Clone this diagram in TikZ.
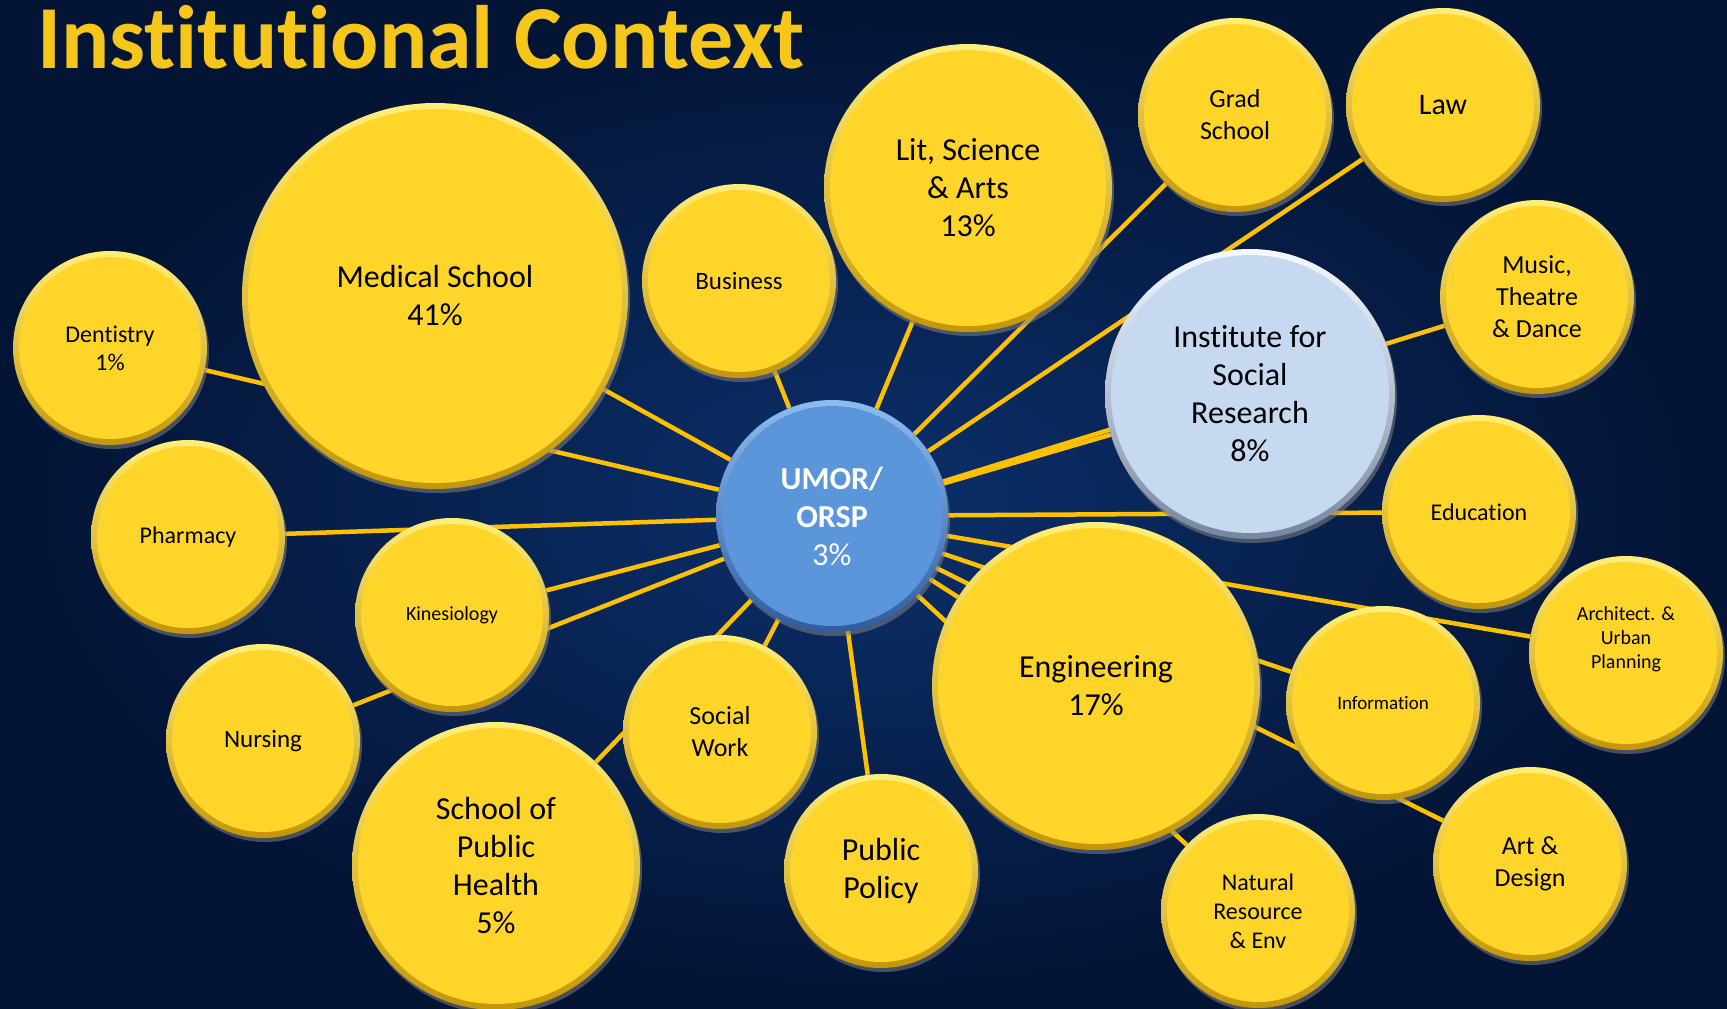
\documentclass[tikz,border=0pt]{standalone}
\usepackage{fontspec}
\setmainfont{Carlito}[Ligatures=NoCommon]
\usetikzlibrary{shadows}
\definecolor{navyin}{RGB}{12,48,108}
\definecolor{navyout}{RGB}{3,20,52}
\definecolor{gold}{RGB}{247,198,27}
\definecolor{linkc}{RGB}{255,192,0}
\definecolor{ylw}{RGB}{255,213,42}
\definecolor{ylwhi}{RGB}{255,238,120}
\definecolor{ylwlo}{RGB}{196,150,8}
\definecolor{hubc}{RGB}{91,150,218}
\definecolor{hubhi}{RGB}{140,188,240}
\definecolor{hublo}{RGB}{48,92,160}
\definecolor{isrc}{RGB}{198,217,241}
\definecolor{isrhi}{RGB}{246,250,255}
\definecolor{isrlo}{RGB}{118,134,160}
\pgfdeclarelayer{bg}
\pgfdeclarelayer{links}
\pgfsetlayers{bg,links,main}

\begin{document}
\begin{tikzpicture}[x=1pt,y=-1pt,
  ball/.style 2 args={circle,inner sep=0pt,minimum size={2*#1pt},align=center,
    drop shadow={shadow xshift=2pt,shadow yshift=-4pt,opacity=.55},
    path picture={\fill[#2](path picture bounding box.center)circle({#1pt-6pt});}},
  dept/.style={ball={#1}{ylw},top color=ylwhi,bottom color=ylwlo},
  fsize/.style 2 args={font=\fontsize{#1}{#2}\selectfont},
  link/.style={linkc,line width=4.5pt}]
  \begin{pgfonlayer}{bg}
    \shade[inner color=navyin,outer color=navyout](0,0)rectangle(1727,1009);
  \end{pgfonlayer}
  \useasboundingbox(0,0)rectangle(1727,1009);
  \node[anchor=base west,inner sep=0pt,text=gold,font=\fontsize{90}{100}\selectfont\bfseries](title)at(37,68){Institutional Context};
  % left side
  \node[dept=193,fsize={32}{38}](med)at(435,296){Medical School\\41\%};
  \node[dept=97,fsize={24}{28}](dent)at(110,348){Dentistry\\1\%};
  \node[dept=97,fsize={24}{28}](pharm)at(188,537){Pharmacy};
  \node[dept=97,fsize={20}{24}](kin)at(452,615){Kinesiology};
  \node[dept=97,fsize={25}{30}](nurs)at(263,741){Nursing};
  \node[dept=144,fsize={32}{38}](sph)at(496,866){School of\\Public\\Health\\5\%};
  \node[dept=97,fsize={26}{32}](ssw)at(720,732){Social\\Work};
  \node[dept=97,fsize={32}{38}](pubpol)at(881,871){Public\\Policy};
  \node[dept=97,fsize={25}{30}](bus)at(739,281){Business};
  \node[dept=144,fsize={32}{38}](lsa)at(968,188){Lit, Science\\\& Arts\\13\%};
  % hub
  \node[ball={116}{hubc},top color=hubhi,bottom color=hublo,text=white,fsize={32}{38}](umor)at(832,516){\textbf{UMOR/}\\\textbf{ORSP}\\3\%};
  % right side
  \node[dept=97,fsize={26}{32}](grad)at(1235,115){Grad\\School};
  \node[dept=97,fsize={30}{36}](law)at(1443,105){Law};
  \node[ball={145}{isrc},top color=isrhi,bottom color=isrlo,fsize={32}{38}](isr)at(1250,394){Institute for\\Social\\Research\\8\%};
  \node[dept=97,fsize={26}{32}](music)at(1537,297){Music,\\Theatre\\\& Dance};
  \node[dept=97,fsize={24}{28}](edu)at(1479,512){Education};
  \node[dept=164,fsize={32}{38}](eng)at(1096,686){Engineering\\17\%};
  \node[dept=97,fsize={19}{23}](info)at(1383,703){Information};
  \node[dept=97,fsize={20}{24}](arch)at(1626,653){Architect. \&\\Urban\\Planning\\[6pt]\mbox{}};
  \node[dept=97,fsize={26}{32}](art)at(1530,864){Art \&\\Design};
  \node[dept=97,fsize={24}{29}](nat)at(1258,911){Natural\\Resource\\\& Env};
  \begin{pgfonlayer}{links}
    \foreach \n in {med,dent,pharm,kin,nurs,sph,ssw,pubpol,bus,lsa,grad,law,isr,music,edu,eng,info,arch,art,nat}
      \draw[link](umor)--(\n);
  \end{pgfonlayer}
\end{tikzpicture}
\end{document}
